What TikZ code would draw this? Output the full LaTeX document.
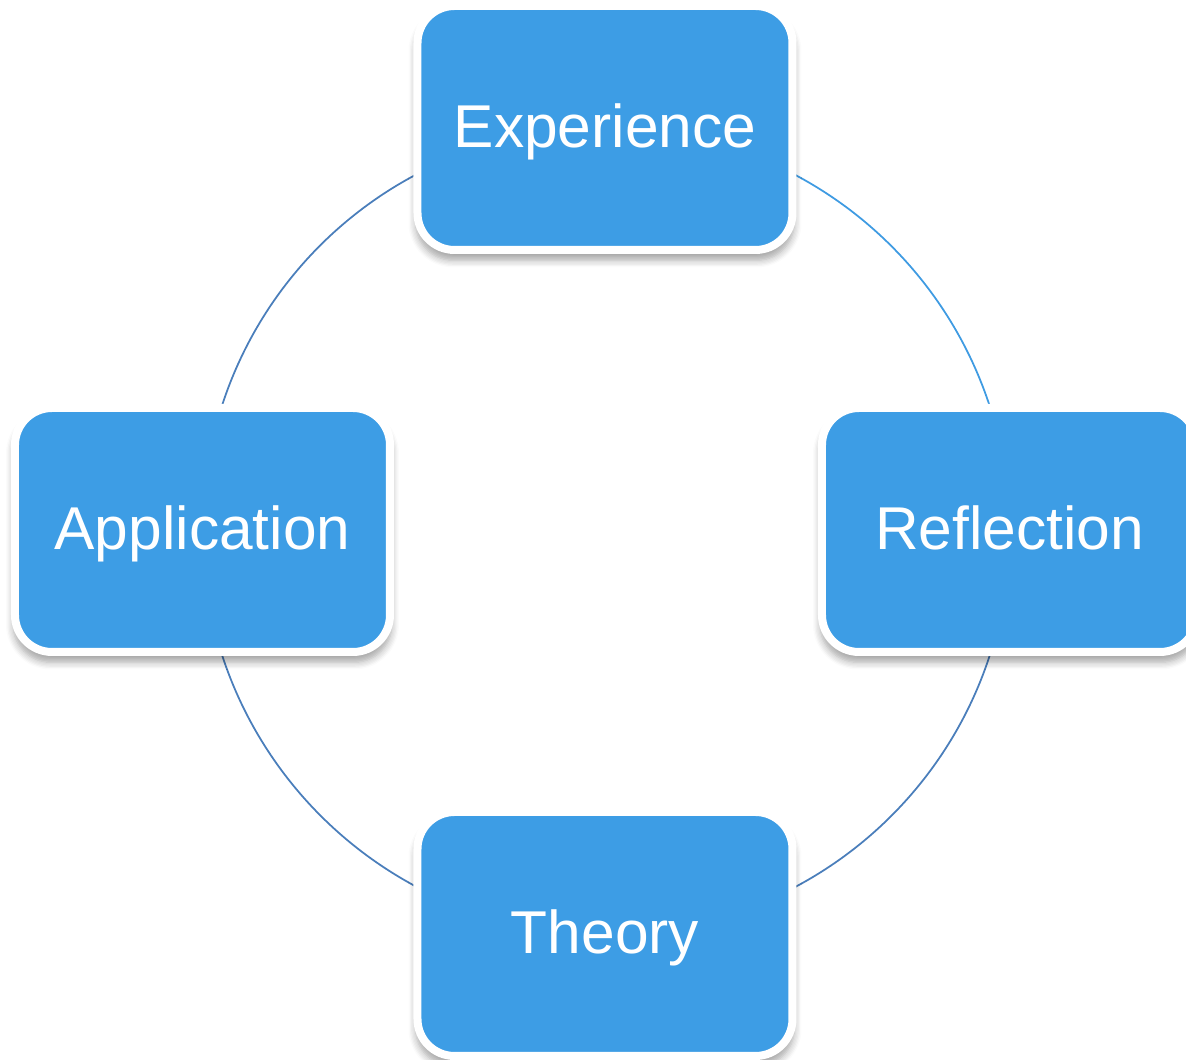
\documentclass[tikz,border=0pt]{standalone}
\usepackage{fontspec}
\setmainfont{Liberation Sans}
\usepackage{tikz}
\usepackage{xcolor}
\usetikzlibrary{shadows.blur,backgrounds}

\definecolor{boxblue}{HTML}{3D9DE5}
\definecolor{arclight}{HTML}{3F9BE2}
\definecolor{arcdark}{HTML}{4A7EBB}

\begin{document}
\begin{tikzpicture}[main node/.style={rectangle,rounded corners=0.37cm,fill=boxblue,draw=white,line width=0.08cm,minimum width=3.75cm,minimum height=2.44cm,inner sep=0pt,text=white,text height=0.45cm,text depth=0.05cm,font=\fontsize{17.2}{20}\selectfont,blur shadow={shadow xshift=0cm,shadow yshift=-0.09cm,shadow blur radius=0.07cm,shadow blur steps=6,shadow opacity=35,shadow scale=1.01}}]

				\useasboundingbox (-6.05,-5.30) rectangle (5.81,5.30);

				\foreach \place/\name/\txt in {{(0,4.02)/exp/Experience}, {(4.045,0)/refl/Reflection}, {(0,-4.04)/theo/Theory}, {(-4.025,0)/appl/Application}}
					\node[main node] (\name) at \place {\txt};

				\begin{scope}[on background layer]
				\foreach \source/\dest/\col in {exp/refl/arclight, refl/theo/arcdark, theo/appl/arcdark, appl/exp/arcdark}
					\path[draw=\col,line width=0.5pt] (\source.center) to[bend left=45] (\dest.center);
				\end{scope}
			\end{tikzpicture}
\end{document}
